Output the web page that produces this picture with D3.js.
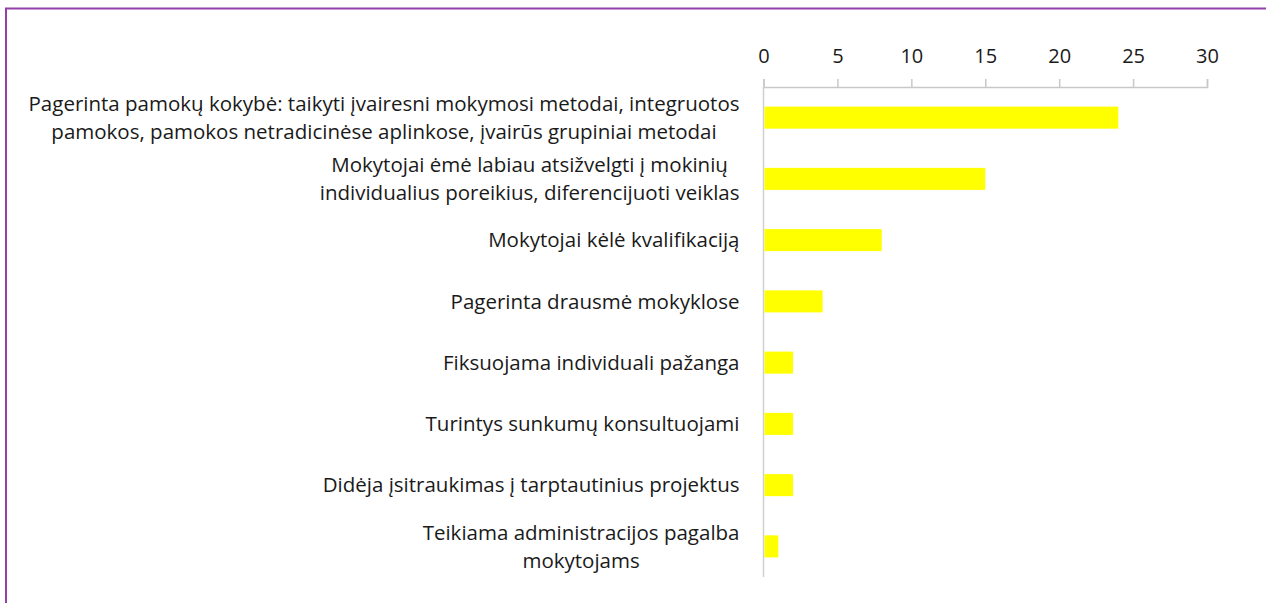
<!DOCTYPE html>
<meta charset="utf-8">
<script src="https://d3js.org/d3.v7.min.js"></script>
<style>
  body { margin: 0; background: #fff; }
  svg text { font-family: "Open Sans", sans-serif; fill: #1a1a1a; }
</style>
<svg id="chart" width="1266" height="603"></svg>
<script>

    // data, top to bottom
    var labels = [
        ["Pagerinta pamokų kokybė: taikyti įvairesni mokymosi metodai, integruotos",
         "pamokos, pamokos netradicinėse aplinkose, įvairūs grupiniai metodai"],
        ["Mokytojai ėmė labiau atsižvelgti į mokinių",
         "individualius poreikius, diferencijuoti veiklas"],
        ["Mokytojai kėlė kvalifikaciją"],
        ["Pagerinta drausmė mokyklose"],
        ["Fiksuojama individuali pažanga"],
        ["Turintys sunkumų  konsultuojami"],
        ["Didėja įsitraukimas į tarptautinius projektus"],
        ["Teikiama administracijos pagalba", "mokytojams"]
    ]
    var values = [24, 15, 8, 4, 2, 2, 2, 1]
    var ticks = [0, 5, 10, 15, 20, 25, 30]

    var svg = d3.select("#chart")

    // purple frame (right and bottom edges fall outside the picture)
    svg.append("rect")
        .attr("x", 6).attr("y", 8.5)
        .attr("width", 1270).attr("height", 610)
        .attr("fill", "none")
        .attr("stroke", "#9440a8")
        .attr("stroke-width", 2)

    var x = d3.scaleLinear()
        .domain([0, 30])
        .range([763.5, 1207])

    var y = d3.scaleBand()
        .domain(d3.range(values.length))
        .range([87, 577])
        .paddingInner(0.64)
        .paddingOuter(0.32)

    // top axis
    var axis = svg.append("g")
        .attr("transform", "translate(0,87)")
        .call(d3.axisTop(x).tickValues(ticks).tickSize(8).tickPadding(16))
    axis.select(".domain").attr("stroke", "#c8c8c8").attr("stroke-width", 1.5)
    axis.selectAll(".tick line").attr("stroke", "#c8c8c8").attr("stroke-width", 1.5)
    axis.selectAll(".tick text")
        .style("font-size", "20px")
        .style("font-family", "Open Sans, sans-serif")
        .attr("fill", "#1a1a1a")

    // vertical category axis line
    svg.append("line")
        .attr("x1", x(0)).attr("x2", x(0))
        .attr("y1", 87).attr("y2", 577)
        .attr("stroke", "#d0d0d0")
        .attr("stroke-width", 1.5)

    // bars
    svg.append("g")
        .selectAll("rect")
        .data(values)
        .enter()
        .append("rect")
        .attr("x", x(0) + 1)
        .attr("y", function (d, i) { return y(i) })
        .attr("width", function (d) { return x(d) - x(0) - 1 })
        .attr("height", y.bandwidth())
        .attr("fill", "#ffff00")

    // category labels: centred block, right edge near the axis
    var rightEdge = x(0) - 24
    var lineH = 28
    labels.forEach(function (lines, i) {
        var cy = y(i) + y.bandwidth() / 2
        var g = svg.append("g")
        var texts = lines.map(function (t, k) {
            return g.append("text")
                .attr("y", cy + (k - (lines.length - 1) / 2) * lineH)
                .attr("dy", "0.35em")
                .attr("text-anchor", "middle")
                .style("font-size", "20.5px")
                .text(t)
        })
        var w = d3.max(texts, function (t) { return t.node().getComputedTextLength() })
        texts.forEach(function (t) { t.attr("x", rightEdge - w / 2) })
    })

</script>
